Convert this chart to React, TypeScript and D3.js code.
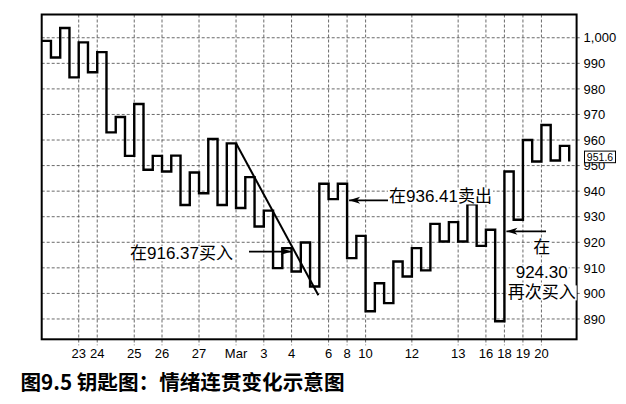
import React, { useEffect, useRef } from "react";
import * as d3 from "d3";

// kagi turning values, one per vertical (index 0 = starting level)
const kagiValues = [
  998.8, 992.3, 1003.8, 984.5, 998.2, 986.5, 994.4, 963.0, 969.0, 953.8,
  974.1, 948.4, 953.8, 947.7, 953.9, 934.6, 947.3, 939.2, 960.4, 934.6,
  958.7, 933.4, 945.5, 926.2, 932.4, 909.9, 917.7, 908.6, 919.9, 902.7,
  942.9, 936.9, 942.9, 913.8, 922.5, 893.0, 904.0, 896.2, 912.5, 906.6,
  917.7, 909.0, 927.2, 920.3, 927.9, 920.3, 934.9, 918.6, 924.9, 889.1,
  947.7, 928.8, 960.0, 951.6, 965.9, 952.0, 957.7, 951.6,
];

const dateLabels = ["23", "24", "25", "26", "27", "Mar", "3", "4", "6", "8", "10", "12", "13", "16", "18", "19", "20"];
const dateIndex = [4, 6, 10, 13, 17, 21, 24, 27, 31, 33, 35, 40, 45, 48, 50, 52, 54];

const yTicks = [890, 900, 910, 920, 930, 940, 950, 960, 970, 980, 990, 1000];

// trend line [index, value]
const trendLine: [number, number][] = [
  [21, 958.7],
  [29.9, 899.3],
];

const lastValue = 951.6;

// annotation prices
const buyPrice = 916.37;
const sellPrice = 936.41;
const rebuyPrice = 924.3;

const caption = "图9.5 钥匙图：情绪连贯变化示意图";

const W = 626;
const H = 404;
const left = 41.7;
const right = 576.6;
const top = 14.5;
const bottom = 339.3;
const font = "'Liberation Sans', Arial, 'Noto Sans CJK SC', sans-serif";

const App: React.FC = () => {
  const ref = useRef<SVGSVGElement | null>(null);

  useEffect(() => {
    if (!ref.current) return;
    const svg = d3.select(ref.current);
    svg.selectAll("*").remove();

    const x = d3.scaleLinear().domain([0, 57.8]).range([left, right]);
    const y = d3.scaleLinear().domain([882.05, 1009.1]).range([bottom, top]);

    svg.append("rect").attr("width", W).attr("height", H).attr("fill", "#fff");

    // grid
    const grid = svg.append("g").attr("stroke", "#444").attr("stroke-width", 0.8).attr("stroke-dasharray", "3,2");
    grid
      .selectAll("line.h")
      .data(yTicks)
      .join("line")
      .attr("x1", left)
      .attr("x2", right + 4)
      .attr("y1", (d) => y(d))
      .attr("y2", (d) => y(d));
    grid
      .selectAll("line.v")
      .data(dateIndex)
      .join("line")
      .attr("x1", (d) => x(d))
      .attr("x2", (d) => x(d))
      .attr("y1", top)
      .attr("y2", bottom + 6);

    // kagi path
    const pts: [number, number][] = [[0, kagiValues[0]]];
    for (let i = 1; i < kagiValues.length; i++) {
      pts.push([i, kagiValues[i - 1]]);
      pts.push([i, kagiValues[i]]);
    }
    const line = d3
      .line<[number, number]>()
      .x((d) => x(d[0]))
      .y((d) => y(d[1]));
    svg
      .append("path")
      .attr("d", line(pts) as string)
      .attr("fill", "none")
      .attr("stroke", "#000")
      .attr("stroke-width", 2.4)
      .attr("stroke-linejoin", "miter");

    // trend line
    svg
      .append("path")
      .attr("d", line(trendLine) as string)
      .attr("stroke", "#000")
      .attr("stroke-width", 2);

    // frame
    svg
      .append("rect")
      .attr("x", left)
      .attr("y", top)
      .attr("width", right - left)
      .attr("height", bottom - top)
      .attr("fill", "none")
      .attr("stroke", "#000")
      .attr("stroke-width", 2);

    // y labels
    svg
      .append("g")
      .selectAll("text")
      .data(yTicks)
      .join("text")
      .attr("x", right + 7)
      .attr("y", (d) => y(d))
      .attr("dy", "0.36em")
      .attr("font-family", font)
      .attr("font-size", 13)
      .attr("fill", "#000")
      .text((d) => d3.format(",")(d));

    // x labels
    svg
      .append("g")
      .selectAll("text")
      .data(dateIndex)
      .join("text")
      .attr("x", (d) => x(d))
      .attr("y", 353)
      .attr("dy", "0.36em")
      .attr("text-anchor", "middle")
      .attr("font-family", font)
      .attr("font-size", 13)
      .attr("fill", "#000")
      .text((d, i) => dateLabels[i]);

    // last value box (sits over the top of the 950 label, as in the original)
    const ly = y(lastValue) - 4.6;
    svg
      .append("rect")
      .attr("x", 584.5)
      .attr("y", ly - 5.8)
      .attr("width", 31)
      .attr("height", 11.6)
      .attr("fill", "#fff")
      .attr("stroke", "#000")
      .attr("stroke-width", 1);
    svg
      .append("text")
      .attr("x", 600)
      .attr("y", ly)
      .attr("dy", "0.36em")
      .attr("text-anchor", "middle")
      .attr("font-family", font)
      .attr("font-size", 10.5)
      .attr("fill", "#000")
      .text(d3.format(".1f")(lastValue));

    // annotations
    const label = (tx: number, ty: number, s: string, anchor: string) => {
      const t = svg
        .append("text")
        .attr("x", tx)
        .attr("y", ty)
        .attr("dy", "0.36em")
        .attr("text-anchor", anchor)
        .attr("font-family", font)
        .attr("font-size", 17)
        .attr("fill", "#000")
        .text(s);
      const b = (t.node() as SVGTextElement).getBBox();
      svg
        .insert("rect", () => t.node() as SVGTextElement)
        .attr("x", b.x - 1)
        .attr("y", b.y + 2)
        .attr("width", b.width + 2)
        .attr("height", b.height - 4)
        .attr("fill", "#fff");
    };
    const arrow = (x1: number, x2: number, yy: number) => {
      svg
        .append("line")
        .attr("x1", x1)
        .attr("x2", x2)
        .attr("y1", yy)
        .attr("y2", yy)
        .attr("stroke", "#000")
        .attr("stroke-width", 1.8);
      const dir = x2 > x1 ? 1 : -1;
      svg
        .append("path")
        .attr("d", `M${x2},${yy}L${x2 - dir * 11},${yy - 3.5}L${x2 - dir * 8},${yy}L${x2 - dir * 11},${yy + 3.5}Z`)
        .attr("fill", "#000");
    };

    label(130, y(buyPrice) + 1.5, `在${buyPrice.toFixed(2)}买入`, "start");
    arrow(249, x(27), y(buyPrice));

    label(389, y(sellPrice) - 4, `在${sellPrice.toFixed(2)}卖出`, "start");
    arrow(388, x(33) + 2, y(sellPrice));

    const cx = 541.7;
    label(cx, y(rebuyPrice) + 16, "在", "middle");
    label(cx, y(rebuyPrice) + 41, rebuyPrice.toFixed(2), "middle");
    label(cx, y(rebuyPrice) + 61, "再次买入", "middle");
    arrow(546, x(50) + 2, y(rebuyPrice));

    // caption
    svg
      .append("text")
      .attr("x", 20.5)
      .attr("y", 383)
      .attr("dy", "0.36em")
      .attr("font-family", "'Noto Sans CJK SC', sans-serif")
      .attr("font-size", 20.6)
      .attr("font-weight", "bold")
      .attr("fill", "#000")
      .text(caption);
  }, []);

  return (
    <div style={{ position: "absolute", left: 0, top: 0 }}>
      <svg ref={ref} width={W} height={H} style={{ display: "block" }}></svg>
    </div>
  );
};

export default App;
